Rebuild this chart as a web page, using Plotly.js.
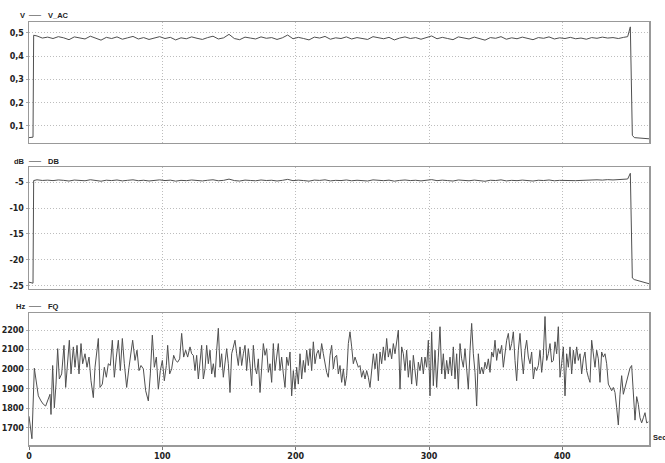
<!DOCTYPE html>
<html><head><meta charset="utf-8">
<script src="https://cdn.plot.ly/plotly-3.0.1.min.js"></script>
<style>html,body{margin:0;padding:0;background:#fff;}#chart{width:665px;height:463px;}</style>
</head><body><div id="chart"></div>
<script>
// ---- data ----
const VT = [0,3,3.5,6,10,14,18,22,26,30,34,38,42,46,50,54,58,62,66,70,74,78,82,86,90,94,98,102,106,110,114,118,122,126,130,134,138,142,146,150,154,158,162,166,170,174,178,182,186,190,194,198,202,206,210,214,218,222,226,230,234,238,242,246,250,254,258,262,266,270,274,278,282,286,290,294,298,302,306,310,314,318,322,326,330,334,338,342,346,350,354,358,362,366,370,374,378,382,386,390,394,398,402,406,410,414,418,422,426,430,434,438,442,446,449,451,452.5,454,459,465];
const V_AC = [0.050,0.052,0.490,
0.487,0.478,0.482,0.476,0.484,0.479,0.471,0.483,0.477,0.474,0.486,0.478,0.469,0.481,0.476,0.483,0.473,0.479,0.485,0.474,
0.480,0.472,0.478,0.484,0.476,0.481,0.470,0.479,0.475,0.483,0.477,0.472,0.480,0.486,0.474,0.479,0.494,0.476,0.471,0.482,
0.478,0.474,0.483,0.477,0.480,0.472,0.479,0.491,0.475,0.481,0.476,0.470,0.482,0.478,0.485,0.473,0.479,0.476,0.483,0.474,
0.480,0.477,0.472,0.484,0.478,0.475,0.481,0.470,0.478,0.483,0.476,0.480,0.473,0.479,0.487,0.475,0.481,0.476,0.471,0.483,
0.478,0.474,0.482,0.476,0.469,0.480,0.477,0.484,0.473,0.479,0.475,0.482,0.476,0.471,0.480,0.477,0.483,0.474,0.479,0.476,
0.481,0.475,0.478,0.473,0.480,0.477,0.482,0.478,0.480,0.476,0.481,
0.484,0.526,0.060,0.050,0.047,0.045];
const DB = [-24.3,-24.5,-4.70,
-4.55,-4.68,-4.62,-4.71,-4.58,-4.66,-4.79,-4.60,-4.69,-4.74,-4.54,-4.67,-4.82,-4.63,-4.70,-4.59,-4.76,-4.65,-4.56,-4.73,
-4.64,-4.78,-4.67,-4.57,-4.70,-4.62,-4.81,-4.66,-4.72,-4.59,-4.68,-4.77,-4.64,-4.55,-4.74,-4.66,-4.42,-4.70,-4.79,-4.61,
-4.68,-4.74,-4.59,-4.69,-4.64,-4.78,-4.66,-4.47,-4.72,-4.62,-4.70,-4.81,-4.61,-4.67,-4.56,-4.76,-4.66,-4.70,-4.59,-4.74,
-4.64,-4.69,-4.78,-4.57,-4.67,-4.72,-4.62,-4.81,-4.67,-4.59,-4.70,-4.64,-4.76,-4.66,-4.52,-4.72,-4.62,-4.70,-4.79,-4.59,
-4.67,-4.74,-4.61,-4.70,-4.83,-4.64,-4.69,-4.57,-4.76,-4.66,-4.72,-4.61,-4.70,-4.79,-4.64,-4.69,-4.59,-4.74,-4.66,-4.70,
-4.62,-4.72,-4.67,-4.60,-4.64,-4.55,-4.61,-4.52,-4.58,-4.50,-4.46,
-4.40,-3.30,-23.5,-23.8,-24.2,-24.6];
const FQ_T = [0,1,2.2,4,5.75,7,9,10.75,12.5,14.5,15.75,16.5,17.75,19,20.25,21.5,22.75,24.5,26.25,27.5,29,30.25,31.5,33.25,34.5,36,37.5,39,40.25,42,43.5,45,46.5,48.25,49.5,51,52,53.25,55,56.5,58,59.5,61,62.5,64,65.5,67,68.5,70,71.5,73.25,75,76.5,77.75,79.5,81,82.5,84,85.75,87.5,89.5,91,92.5,94,95.5,97,98.5,100,101.5,103,104,105.5,107,108.5,110,111.5,113,114.5,116,117.5,119,120.75,
122,123.25,124.5,125.75,127,128.25,129.5,130.75,132,133.25,134.5,135.75,137,138.25,139.5,140.75,142,143.25,144.5,145.75,147,148.25,149.5,150.75,152,153.25,154.5,155.75,157,158.25,159.5,160.75,162,163.25,164.5,165.75,167,168.25,169.5,170.75,172,173.25,174.5,175.75,177,178.25,179.5,180.75,182,183.25,184.5,185.75,187,188.25,189.5,190.75,192,193.25,194.5,195.75,197,198.25,199.5,200.75,202,203.25,204.5,205.75,207,208.25,209.5,210.75,212,213.25,214.5,215.75,217,218.25,219.5,220.75,222,223.25,224.5,225.75,227,228.25,229.5,230.75,232,233.25,234.5,235.75,237,238.25,239.5,240.75,
242,243.25,244.5,245.75,247,248.25,249.5,250.75,252,253.25,254.5,255.75,257,258.25,259.5,260.75,262,263.25,264.5,265.75,267,268.25,269.5,270.75,272,273.25,274.5,275.75,277,278.25,279.5,280.75,282,283.25,284.5,285.75,287,288.25,289.5,290.75,292,293.25,294.5,295.75,297,298.25,299.5,300.75,302,303.25,304.5,305.75,307,308.25,309.5,310.75,312,313.25,314.5,315.75,317,318.25,319.5,320.75,322,323.25,324.5,325.75,327,328.25,329.5,330.75,332,333.25,334.5,335.75,337,338.25,339.5,340.75,342,343.25,344.5,345.75,347,348.25,349.5,350.75,352,353.25,354.5,355.75,357,358.25,359.5,360.75,
362,363.25,364.5,365.75,367,368.25,369.5,370.75,372,373.25,374.5,375.75,377,378.25,379.5,380.75,382,383.25,384.5,385.75,387,388.25,389.5,390.75,392,393.25,394.5,395.75,397,398.25,399.5,400.75,402,403.25,404.5,405.75,407,408.25,409.5,410.75,412,413.25,414.5,415.75,417,418.25,419.5,420.75,422,423.25,424.5,425.75,427,428.25,429.5,430.75,432,433.25,434.5,435.75,437,438.25,439.5,440.75,442,443.25,444.5,445.75,447,448.25,449.5,450.75,452,453.25,454.5,455.75,457,458.25,459.5,460.75,462,463.25,464.5];
const FQ = [1760,1705,1645,2005,1924,1864,1838,1821,1812,1855,1872,1769,2019,1803,1924,2105,1950,1976,2122,1907,2045,2148,1976,2114,2010,2122,1976,2131,2028,2079,2010,2062,1941,1855,2010,2088,2157,1907,1924,2010,1959,2028,2019,2148,1959,2062,2148,1993,2157,2028,1907,2010,2097,2148,2045,2097,1993,2019,2002,1890,1838,1976,2174,2010,2062,1898,1993,2045,1941,2019,2122,1976,2002,2071,2045,2036,2053,2183,2062,2097,2062,2114,
2079,2071,1993,2071,1950,2045,2122,1950,2002,2122,2028,2097,1976,2028,1959,2097,2209,2010,2079,1959,2045,2105,2028,1881,2079,2114,2148,2079,2019,2114,2019,2079,2122,1993,2105,2028,1916,2122,2010,1976,2053,1881,2010,2131,2071,2105,1984,2028,1933,2131,1993,2071,2131,1993,2062,1976,1907,2062,2019,2088,1864,1993,1898,2010,1924,2079,1950,2045,1984,2097,2019,2105,1993,2140,2028,2079,2097,2053,2131,2079,2028,1984,1959,2071,2122,2002,2062,2071,1976,2019,1933,2002,1916,1967,2131,2191,
2114,2028,2062,2036,2010,2019,1959,1993,1950,1993,1959,1907,2010,2079,2002,2079,1941,2088,2028,2114,2045,2157,2062,2105,2053,2131,2079,2148,2200,1898,2114,2079,1993,2097,1959,2045,1924,2071,1993,1916,2036,1993,2062,1976,2062,2010,2148,1864,2191,1916,2097,1907,2062,2217,1976,2079,1950,2045,1976,2062,1967,2114,1950,2079,1898,2131,2053,2010,2105,1993,1898,2097,2234,2079,1984,1812,2079,1976,2010,1976,2036,2002,2053,1984,2088,2062,2148,2045,2105,2079,2122,2010,2088,2148,2183,2097,
2131,2191,2045,1941,2097,2183,2062,1976,2097,2148,2062,2028,2088,1950,2010,1993,2019,2097,1984,2071,2269,2045,2079,2131,2036,2045,2140,2079,2217,1959,2028,2114,1864,2079,2010,2114,1976,2097,2028,2114,2045,2079,1976,2053,2088,1993,1959,1933,2148,2079,2010,2097,2053,1933,2088,2062,2079,2028,1924,1907,1890,1907,1881,1803,1715,1872,1967,1872,1907,1933,1976,2006,2019,1890,1740,1860,1821,1752,1726,1752,1778,1726,1731];
const X_TICKS = [0,100,200,300,400];
const V_TICKS = [0.1,0.2,0.3,0.4,0.5];
const V_LABELS = ['0,1','0,2','0,3','0,4','0,5'];
const DB_TICKS = [-25,-20,-15,-10,-5];
const DB_LABELS = ['-25','-20','-15','-10','-5'];
const FQ_TICKS = [1700,1800,1900,2000,2100,2200];
const FQ_LABELS = ['1700','1800','1900','2000','2100','2200'];

// ---- chart ----
const lineStyle = {color:'#505050', width:1};
const traces = [
  {x:VT, y:V_AC, xaxis:'x', yaxis:'y', type:'scatter', mode:'lines', line:lineStyle},
  {x:VT, y:DB, xaxis:'x2', yaxis:'y2', type:'scatter', mode:'lines', line:lineStyle},
  {x:FQ_T, y:FQ, xaxis:'x3', yaxis:'y3', type:'scatter', mode:'lines', line:lineStyle}
];
const tf = {family:'DejaVu Sans, sans-serif', size:8, color:'#222', weight:'bold'};
const GRID = {showgrid:true, gridcolor:'#bdbdbd', griddash:'1px,2px', gridwidth:1};
function xa(anchor, labels){
  return Object.assign({anchor:anchor, domain:[0,1], range:[0,465], tickvals:X_TICKS, showticklabels:labels,
    ticks: labels ? 'outside' : '', ticklen:3, tickcolor:'#777', tickfont:tf,
    showline:true, mirror:true, linecolor:'#999', linewidth:1.5, zeroline:false, fixedrange:true}, GRID);
}
function ya(anchor, dom, rng, tv, tt){
  return Object.assign({anchor:anchor, domain:dom, range:rng, tickvals:tv, ticktext:tt, tickfont:tf,
    ticks:'outside', ticklen:2, tickcolor:'#aaa',
    showline:true, mirror:true, linecolor:'#999', linewidth:1.5, zeroline:false, fixedrange:true}, GRID);
}
const lf = {family:'Liberation Sans, Arial, sans-serif', size:7.5, color:'#222', weight:'bold'};
function label(unit, name, py){
  const y = (445 - py) / 423;
  return [
    {xref:'paper', yref:'paper', x:(27-29)/619, y:y, xanchor:'right', yanchor:'middle', text:unit, showarrow:false, font:lf},
    {xref:'paper', yref:'paper', x:(35-29)/619, y:y, xanchor:'center', yanchor:'middle', text:'—', showarrow:false, font:{family:'Liberation Sans, Arial, sans-serif', size:12, color:'#888'}},
    {xref:'paper', yref:'paper', x:(46-29)/619, y:y, xanchor:'left', yanchor:'middle', text:name, showarrow:false, font:lf}
  ];
}
const annotations = [].concat(
  label('V','V_AC',15),
  label('dB','DB',161),
  label('Hz','FQ',306),
  [{xref:'paper', yref:'paper', x:(650-29)/619, y:(445-437)/423, xanchor:'left', yanchor:'middle', text:'Sec', showarrow:false, font:lf}]
);
const layout = {
  width:665, height:463,
  margin:{l:29, r:16, t:22, b:18, pad:0},
  paper_bgcolor:'#fff', plot_bgcolor:'#fff',
  showlegend:false,
  xaxis: xa('y', false),
  xaxis2: xa('y2', false),
  xaxis3: xa('y3', true),
  yaxis: ya('x', [0.714,1], [0.027,0.547], V_TICKS, V_LABELS),
  yaxis2: ya('x2', [0.369,0.657], [-25.6,-2.1], DB_TICKS, DB_LABELS),
  yaxis3: ya('x3', [0,0.312], [1613,2287], FQ_TICKS, FQ_LABELS),
  annotations: annotations
};
Plotly.newPlot('chart', traces, layout, {staticPlot:true, displayModeBar:false});
</script>
</body></html>
